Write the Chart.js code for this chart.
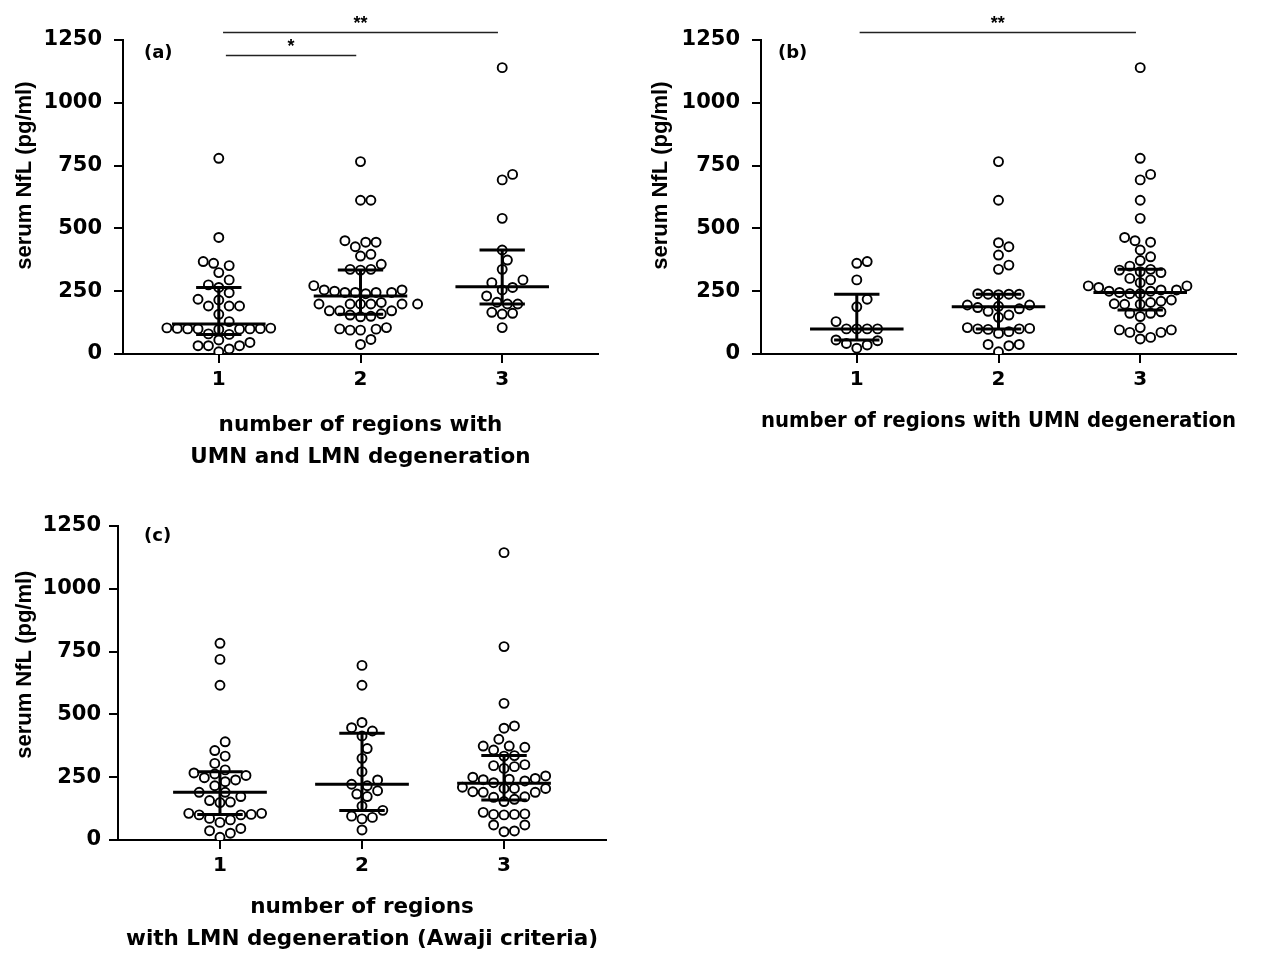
<!DOCTYPE html>
<html>
<head>
<meta charset="utf-8">
<script src="https://cdn.jsdelivr.net/npm/chart.js@4.4.1/dist/chart.umd.min.js"></script>
<style>
  html, body { margin: 0; padding: 0; background: #fff; }
  body { width: 1269px; height: 955px; position: relative; overflow: hidden; }
  canvas { position: absolute; }
</style>
</head>
<body>
<canvas id="chartA" width="620" height="480" style="left:0px;top:0px"></canvas>
<canvas id="chartB" width="629" height="480" style="left:640px;top:0px"></canvas>
<canvas id="chartC" width="620" height="475" style="left:0px;top:480px"></canvas>
<script>
// categories and tick labels
const categories = [1, 2, 3];
const xTickLabels = ['1', '2', '3'];
const yTicks = [0, 250, 500, 750, 1000, 1250];

// (a) UMN and LMN degeneration
const panelA1 = [779, 464, 368, 352, 361, 324, 295, 275, 265, 244, 215, 218, 191, 191, 191, 158, 129, 104, 100, 102, 98, 100, 101, 99, 100, 103, 80, 78, 56, 33, 33, 9, 20, 33, 46];
const panelA2 = [766, 612, 612, 445, 427, 451, 445, 397, 390, 357, 337, 337, 334, 272, 255, 250, 245, 245, 245, 240, 245, 255, 205, 199, 199, 199, 199, 199, 199, 172, 172, 172, 160, 155, 150, 148, 105, 100, 99, 95, 95, 58, 38];
const panelA3 = [1140, 715, 693, 540, 414, 374, 337, 295, 284, 265, 255, 231, 206, 199, 199, 166, 162, 159, 105];
const aMedian = [119, 231, 268];
const aQ1 = [78, 158, 199];
const aQ3 = [265, 334, 414];

// (b) UMN degeneration
const panelB1 = [368, 361, 295, 218, 188, 129, 100, 100, 100, 100, 56, 53, 42, 36, 23];
const panelB2 = [766, 612, 443, 427, 394, 354, 337, 240, 238, 238, 238, 236, 195, 195, 190, 185, 180, 170, 155, 146, 105, 102, 100, 100, 98, 89, 82, 38, 38, 33, 9];
const panelB3 = [1140, 779, 715, 693, 612, 540, 464, 451, 445, 414, 387, 372, 350, 337, 334, 328, 324, 301, 295, 284, 271, 271, 265, 255, 255, 250, 250, 245, 240, 240, 215, 210, 205, 200, 198, 198, 168, 162, 162, 149, 105, 96, 96, 86, 86, 66, 60];
const bMedian = [100, 188, 245];
const bQ1 = [56, 100, 175];
const bQ3 = [238, 238, 337];

// (c) LMN degeneration (Awaji)
const panelC1 = [783, 719, 616, 391, 356, 334, 305, 279, 267, 263, 257, 248, 239, 232, 216, 190, 190, 173, 157, 151, 149, 106, 106, 102, 100, 100, 86, 80, 70, 46, 37, 27, 11];
const panelC2 = [695, 616, 468, 447, 434, 414, 364, 325, 272, 239, 222, 216, 196, 183, 173, 135, 118, 95, 90, 84, 40];
const panelC3 = [1144, 770, 544, 454, 445, 401, 374, 374, 369, 358, 336, 334, 300, 296, 292, 285, 255, 250, 245, 242, 240, 235, 228, 210, 205, 205, 205, 192, 190, 190, 172, 170, 162, 153, 110, 104, 102, 102, 100, 60, 60, 36, 33];
const cMedian = [190, 222, 226];
const cQ1 = [102, 117, 159];
const cQ3 = [272, 425, 336];

// significance brackets
const sigA = [
    { from: 1.03, to: 2.97, y: 1283, label: '**' },
    { from: 1.05, to: 1.97, y: 1191, label: '*' }
];
const sigB = [
    { from: 1.02, to: 2.97, y: 1283, label: '**' }
];

const PX_PER_Y = 314 / 1250;
const PX_PER_CAT = 142;
const DOT = 10.4;

// simple beeswarm so overlapping dots get pushed sideways
function swarm(values, center) {
    const placed = [];
    const sorted = values.slice().sort((a, b) => a - b);
    sorted.forEach(v => {
        const py = v * PX_PER_Y;
        for (let i = 0; i < 60; i++) {
            const dx = (i % 2 ? 1 : -1) * Math.ceil(i / 2) * DOT / 2;
            const hit = placed.some(p => (p.dx - dx) ** 2 + (p.py - py) ** 2 < DOT * DOT);
            if (!hit) {
                placed.push({ dx, py, v });
                break;
            }
        }
    });
    return placed.map(p => ({ x: center + p.dx / PX_PER_CAT, y: p.v }));
}

function summaryLines(med, q1, q3) {
    const pts = [];
    categories.forEach((c, i) => {
        pts.push({ x: c - 0.33, y: med[i] }, { x: c + 0.33, y: med[i] }, { x: c, y: null });
        pts.push({ x: c - 0.16, y: q3[i] }, { x: c + 0.16, y: q3[i] }, { x: c, y: null });
        pts.push({ x: c - 0.16, y: q1[i] }, { x: c + 0.16, y: q1[i] }, { x: c, y: null });
        pts.push({ x: c, y: q1[i] }, { x: c, y: q3[i] }, { x: c, y: null });
    });
    return pts;
}

const extrasPlugin = {
    id: 'extras',
    afterDatasetsDraw(chart, args, o) {
        const { ctx, chartArea, scales: { x, y } } = chart;
        ctx.save();
        ctx.fillStyle = '#000';
        ctx.font = 'bold 18px "DejaVu Sans"';
        ctx.textAlign = 'left';
        ctx.textBaseline = 'middle';
        ctx.fillText(o.letter, chartArea.left + o.letterDx, chartArea.top + o.letterDy);

        (o.bars || []).forEach(b => {
            const py = Math.round(y.getPixelForValue(b.y)) + 0.5;
            ctx.strokeStyle = '#222';
            ctx.lineWidth = 1.4;
            ctx.beginPath();
            ctx.moveTo(x.getPixelForValue(b.from), py);
            ctx.lineTo(x.getPixelForValue(b.to), py);
            ctx.stroke();
            ctx.font = 'bold 18px "Liberation Sans"';
            ctx.textAlign = 'center';
            ctx.textBaseline = 'alphabetic';
            ctx.fillText(b.label, x.getPixelForValue((b.from + b.to) / 2), py - 4);
        });
        ctx.restore();
    }
};

function makePanel(id, cfg) {
    const points = [];
    cfg.groups.forEach((g, i) => points.push(...swarm(g, categories[i])));

    new Chart(document.getElementById(id), {
        type: 'scatter',
        data: {
            datasets: [
                {
                    data: summaryLines(cfg.med, cfg.q1, cfg.q3),
                    showLine: true,
                    spanGaps: false,
                    borderColor: '#000',
                    borderWidth: 3,
                    borderCapStyle: 'butt',
                    pointRadius: 0,
                    pointHoverRadius: 0,
                    order: 0
                },
                {
                    data: points,
                    pointStyle: 'circle',
                    pointRadius: 4.5,
                    pointHoverRadius: 4.5,
                    pointBorderWidth: 1.9,
                    pointBackgroundColor: '#fff',
                    pointBorderColor: '#000',
                    order: 1
                }
            ]
        },
        options: {
            responsive: false,
            animation: false,
            devicePixelRatio: 1,
            layout: { padding: { top: cfg.top, right: cfg.right, left: 0, bottom: 0 } },
            plugins: {
                legend: { display: false },
                tooltip: { enabled: false },
                extras: { letter: cfg.letter, letterDx: cfg.letterDx, letterDy: cfg.letterDy, bars: cfg.bars }
            },
            scales: {
                x: {
                    type: 'linear',
                    min: cfg.xMin,
                    max: cfg.xMax,
                    afterBuildTicks: s => { s.ticks = categories.map(v => ({ value: v })); },
                    afterFit: s => { s.height = cfg.xHeight; },
                    ticks: {
                        callback: v => xTickLabels[categories.indexOf(v)],
                        color: '#000',
                        padding: 5,
                        font: { family: 'DejaVu Sans', weight: 'bold', size: 20 }
                    },
                    grid: { drawOnChartArea: false, tickLength: 9, lineWidth: 2, color: '#000' },
                    border: { color: '#000', width: 2 },
                    title: {
                        display: true,
                        text: cfg.xTitle,
                        color: '#000',
                        padding: { top: 0, bottom: cfg.xTitlePad },
                        font: { family: 'DejaVu Sans', weight: 'bold', size: 21.5, lineHeight: 1.49 }
                    }
                },
                y: {
                    min: 0,
                    max: 1250,
                    afterBuildTicks: s => { s.ticks = yTicks.map(v => ({ value: v })); },
                    afterFit: s => { s.width = cfg.yWidth; },
                    ticks: {
                        callback: v => String(v),
                        color: '#000',
                        padding: cfg.yTickPad,
                        font: { family: 'DejaVu Sans', weight: 'bold', size: 21 }
                    },
                    grid: { drawOnChartArea: false, tickLength: 9, lineWidth: 2, color: '#000' },
                    border: { color: '#000', width: 2 },
                    title: {
                        display: true,
                        text: cfg.yTitle,
                        color: '#000',
                        padding: { top: cfg.yTitlePad, bottom: 0 },
                        font: { family: 'Liberation Sans', weight: 'bold', size: 22 }
                    }
                }
            }
        },
        plugins: [extrasPlugin]
    });
}

makePanel('chartA', {
    groups: [panelA1, panelA2, panelA3], med: aMedian, q1: aQ1, q3: aQ3,
    top: 40, right: 22, yWidth: 123, xHeight: 126, xMin: 0.324, xMax: 3.676,
    xTitle: ['number of regions with', 'UMN and LMN degeneration'], xTitlePad: 7,
    yTitle: '       serum NfL (pg/ml)', yTitlePad: 12, yTickPad: 12,
    letter: '(a)', letterDx: 21, letterDy: 13, bars: sigA
});

makePanel('chartB', {
    groups: [panelB1, panelB2, panelB3], med: bMedian, q1: bQ1, q3: bQ3,
    top: 40, right: 33, yWidth: 121, xHeight: 126, xMin: 0.324, xMax: 3.676,
    xTitle: 'number of regions with UMN degeneration', xTitlePad: 43,
    yTitle: '       serum NfL (pg/ml)', yTitlePad: 8, yTickPad: 12,
    letter: '(b)', letterDx: 17, letterDy: 13, bars: sigB
});

makePanel('chartC', {
    groups: [panelC1, panelC2, panelC3], med: cMedian, q1: cQ1, q3: cQ3,
    top: 46, right: 14, yWidth: 118, xHeight: 115, xMin: 0.282, xMax: 3.718,
    xTitle: ['number of regions', 'with LMN degeneration (Awaji criteria)'], xTitlePad: 0,
    yTitle: '      serum NfL (pg/ml)', yTitlePad: 12, yTickPad: 8,
    letter: '(c)', letterDx: 26, letterDy: 10, bars: []
});
</script>
</body>
</html>
